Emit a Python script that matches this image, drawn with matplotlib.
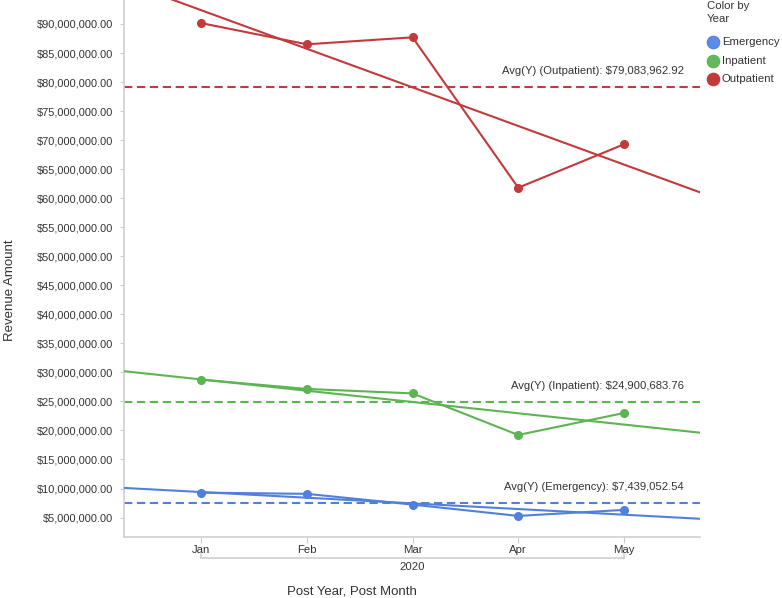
import numpy as np
import matplotlib
matplotlib.use("Agg")
import matplotlib.pyplot as plt
from matplotlib.lines import Line2D
import matplotlib.transforms as mtransforms

plt.rcParams['font.family'] = ['Liberation Sans', 'DejaVu Sans']

months = ["Jan", "Feb", "Mar", "Apr", "May"]
year_label = "2020"
series_names = ["Emergency", "Inpatient", "Outpatient"]
emergency = [9.29e6, 9.08e6, 7.23e6, 5.28e6, 6.315e6]
inpatient = [28.75e6, 27.15e6, 26.38e6, 19.22e6, 23.00e6]
outpatient = [90.15e6, 86.50e6, 87.70e6, 61.80e6, 69.27e6]
avg_labels = ["Avg(Y) (Emergency): $7,439,052.54",
              "Avg(Y) (Inpatient): $24,900,683.76",
              "Avg(Y) (Outpatient): $79,083,962.92"]
y_ticks = list(range(5_000_000, 90_000_001, 5_000_000))

colors = ["#4f80dc", "#5cb552", "#c23a3c"]
legend_face = ["#5a8ee6", "#62b85a", "#c23a3c"]

fig = plt.figure(figsize=(7.82, 5.98), dpi=100)
ax = fig.add_axes([124/782, 1 - 536.7/598, (700-124)/782, 536.7/598])

x = np.arange(len(months))
xl = (-0.73, 4.72)
for vals, c, lab in zip([emergency, inpatient, outpatient], colors, avg_labels):
    v = np.array(vals)
    ax.plot(x, v, color=c, lw=1.5, marker='o', ms=5.5, mec=c, mfc=c, zorder=4)
    k, b = np.polyfit(x, v, 1)
    xx = np.array(xl)
    ax.plot(xx, k*xx + b, color=c, lw=1.5, zorder=3)
    m = v.mean()
    ax.axhline(m, color=c, lw=1.5, ls=(0, (4, 2.2)), zorder=2)
    ax.annotate(lab, xy=(0.972, m), xycoords=('axes fraction', 'data'),
                xytext=(0, 8), textcoords='offset points',
                ha='right', va='bottom', fontsize=8.1, color='#333333')

ax.set_xlim(*xl)
ax.set_ylim(1.7e6, 94.13e6)
ax.set_yticks(y_ticks)
ax.set_yticklabels([f"${t:,.2f}" for t in y_ticks], fontsize=7.9, color='#333333')
ax.set_xticks(x)
ax.set_xticklabels(months, fontsize=8.2, color='#333333')
ax.tick_params(axis='y', length=3, color='#cccccc', pad=5)
ax.tick_params(axis='x', length=4, color='#cccccc', pad=2)
for s in ['top', 'right']:
    ax.spines[s].set_visible(False)
for s in ['left', 'bottom']:
    ax.spines[s].set_color('#d0d0d0')
    ax.spines[s].set_linewidth(1.2)

# year bracket below month labels
tr = mtransforms.blended_transform_factory(ax.transData, fig.transFigure)
yb = 1 - 558/598
ax.add_line(Line2D([x[0], x[-1]], [yb, yb], transform=tr, color='#d0d0d0', lw=1.2, clip_on=False))
for xe in (x[0], x[-1]):
    ax.add_line(Line2D([xe, xe], [yb, yb + 4/598], transform=tr, color='#d0d0d0', lw=1.2, clip_on=False))
ax.text(np.mean(x[[0, -1]]), 1 - 567/598, year_label, transform=tr, ha='center', va='center',
        fontsize=8.2, color='#333333')

fig.text(352/782, 1 - 591/598, "Post Year, Post Month", ha='center', va='center', fontsize=9.5, color='#333333')
fig.text(10/782, 1 - 290/598, "Revenue Amount", rotation=90, ha='center', va='center', fontsize=9.5, color='#333333')

# legend
fig.text(707/782, 1 - 1/598, "Color by\nYear", ha='left', va='top', fontsize=8.2, color='#333333', linespacing=1.35)
for i, (name, fc, ec) in enumerate(zip(series_names, legend_face, colors)):
    yy = 1 - (42 + 18.5*i)/598
    fig.add_artist(Line2D([713/782], [yy], marker='o', ms=9, mfc=fc, mec=ec, mew=0.8, ls='none',
                          transform=fig.transFigure))
    fig.text(722/782, yy, name, ha='left', va='center', fontsize=8.2, color='#333333')

fig.savefig("out.png", dpi=100)
